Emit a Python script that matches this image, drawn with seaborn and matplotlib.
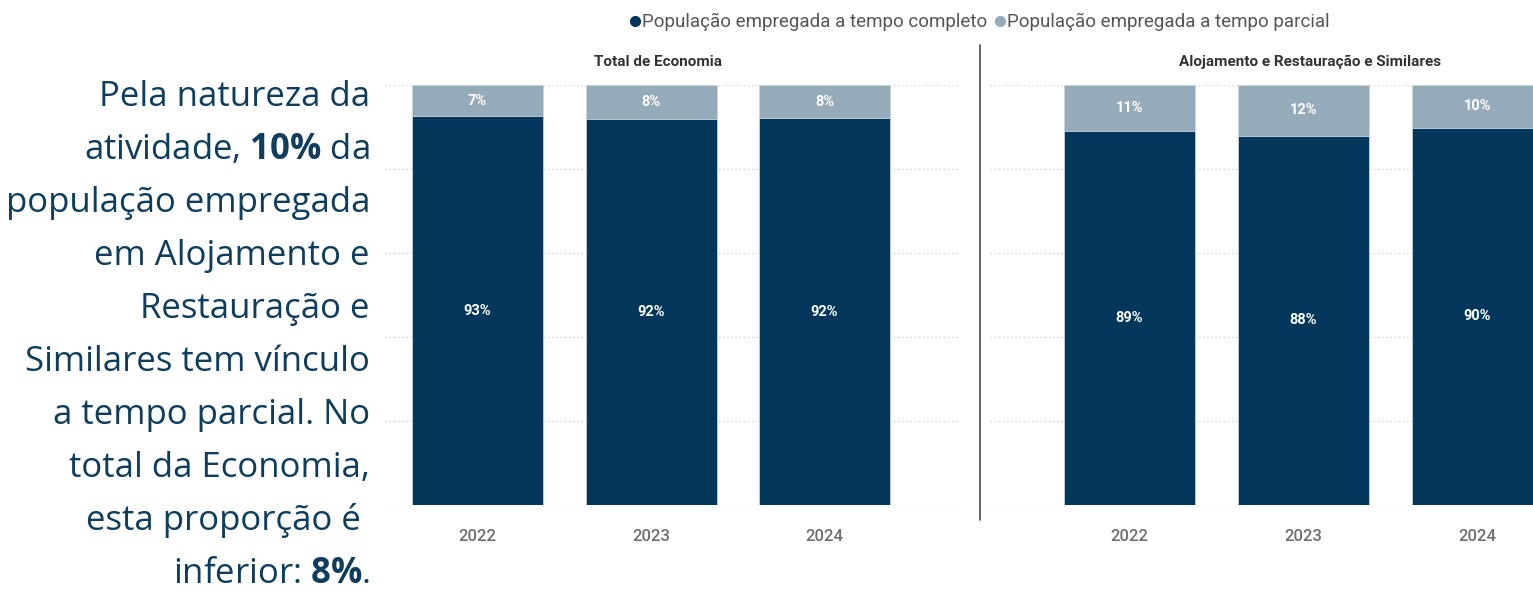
import matplotlib
matplotlib.use("Agg")
import matplotlib.pyplot as plt
import seaborn as sns
import pandas as pd
from matplotlib.lines import Line2D
import matplotlib.transforms as mtransforms

# dados
anos = ["2022", "2023", "2024"]
total_completo = [92.6, 91.9, 92.1]
total_parcial = [7.4, 8.1, 7.9]
aloj_completo = [89.0, 87.9, 89.8]
aloj_parcial = [11.0, 12.1, 10.2]
paineis = ["Total de Economia", "Alojamento e Restauração e Similares"]
series = ["População empregada a tempo completo", "População empregada a tempo parcial"]
texto = [
    "Pela natureza da",
    r"atividade, $\mathbf{10\%}$ da",
    "população empregada",
    "em Alojamento e",
    "Restauração e",
    "Similares tem vínculo",
    "a tempo parcial. No",
    "total da Economia,",
    "esta proporção é ",
    r"inferior: $\mathbf{8\%}$.",
]

COR_COMPLETO = "#02375b"
COR_PARCIAL = "#96abb9"
COR_TEXTO = "#0e3d5d"

sns.set_theme(style="white")
plt.rcParams["font.family"] = ["Roboto", "DejaVu Sans"]
plt.rcParams["mathtext.fontset"] = "custom"
plt.rcParams["mathtext.rm"] = "Open Sans"
plt.rcParams["mathtext.bf"] = "Open Sans:bold"

W, H = 1533, 594
fig = plt.figure(figsize=(W / 100, H / 100), dpi=100)


def axes_px(x0, x1, y0, y1):
    return fig.add_axes([x0 / W, 1 - y1 / H, (x1 - x0) / W, (y1 - y0) / H])


ax1 = axes_px(385, 960, 85, 505)
ax2 = axes_px(990, 1566, 85, 505)

for ax, titulo, completo, parcial, xlim in [
    (ax1, paineis[0], total_completo, total_parcial, (-0.533, 2.78)),
    (ax2, paineis[1], aloj_completo, aloj_parcial, (-0.8, 2.51)),
]:
    df = pd.DataFrame({"ano": anos, "completo": completo, "parcial": parcial})
    df["total"] = df["completo"] + df["parcial"]
    sns.barplot(data=df, x="ano", y="total", color=COR_PARCIAL, saturation=1,
                width=0.755, linewidth=0.6, edgecolor="#c9d4db", ax=ax)
    sns.barplot(data=df, x="ano", y="completo", color=COR_COMPLETO, saturation=1,
                width=0.755, linewidth=0.6, edgecolor="#c9d4db", ax=ax)
    ax.bar_label(ax.containers[1], labels=[f"{v:.0f}%" for v in completo],
                 label_type="center", color="white", fontweight="bold", fontsize=10.5)
    for i, (c, p) in enumerate(zip(completo, parcial)):
        ax.text(i, c + p / 2, f"{p:.0f}%", ha="center", va="center",
                color="white", fontweight="bold", fontsize=10.5)
    ax.set_xlim(*xlim)
    ax.set_ylim(0, 100)
    ax.set_yticks([0, 20, 40, 60, 80, 100])
    ax.yaxis.grid(True, linestyle=(0, (1, 2)), color="#d2d2d2", linewidth=1)
    ax.set_axisbelow(True)
    ax.tick_params(axis="y", left=False, labelleft=False)
    ax.tick_params(axis="x", length=0, pad=17, labelsize=12, labelcolor="#6e6e6e")
    for lbl in ax.get_xticklabels():
        lbl.set_fontweight("medium")
    ax.set_xlabel("")
    ax.set_ylabel("")
    sns.despine(ax=ax, left=True, bottom=True)
    trans = mtransforms.blended_transform_factory(ax.transData, ax.transAxes)
    ax.text(1.04, 1 + 23 / 420, titulo, transform=trans, ha="center", va="center",
            fontsize=11, fontweight="bold", color="#333333")

# separador
fig.add_artist(Line2D([980 / W, 980 / W], [1 - 45 / H, 1 - 520 / H],
                      color="#4a4a4a", linewidth=1.2))

# legenda
handles = [Line2D([], [], marker="o", linestyle="", color=COR_COMPLETO, markersize=7),
           Line2D([], [], marker="o", linestyle="", color=COR_PARCIAL, markersize=7)]
fig.legend(handles, series, loc="center", bbox_to_anchor=(979 / W, 1 - 22 / H),
           ncol=2, frameon=False, fontsize=13.5, labelcolor="#555555",
           handletextpad=0.05, columnspacing=0.3, handlelength=0.7)

# texto lateral
for i, linha in enumerate(texto):
    fig.text(370 / W, 1 - (106 + 53 * i) / H, linha, ha="right", va="baseline",
             fontsize=25, color=COR_TEXTO, family="Open Sans")

fig.savefig("out.png", dpi=100)
